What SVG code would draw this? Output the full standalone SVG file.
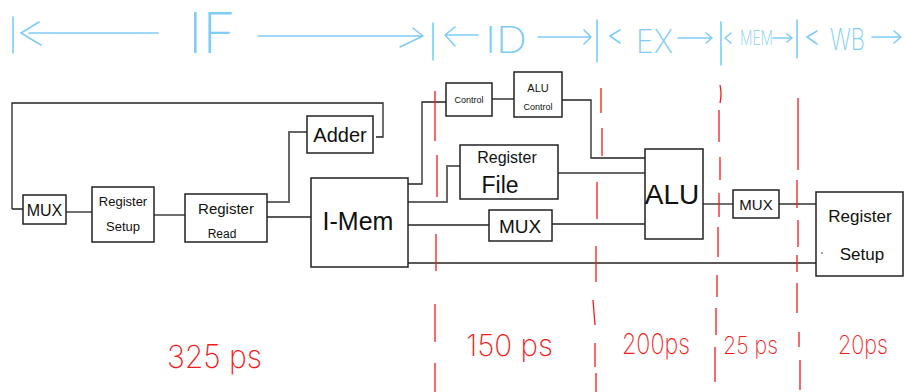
<svg xmlns="http://www.w3.org/2000/svg" width="904" height="392" viewBox="0 0 904 392">
<style>
.box{fill:#fff;stroke:#222;stroke-width:1.5}
.c{fill:none;stroke:#222;stroke-width:1.3}
.g{fill:none;stroke:#666;stroke-width:2}
.t{font-family:"Liberation Sans",Arial,sans-serif;fill:#111}
.hdr{fill:none;stroke:#7fcdf7;stroke-width:1.6;stroke-linecap:round;stroke-linejoin:round}
.ht{font-family:Inter,"Liberation Sans",sans-serif;font-weight:200;fill:#7fcdf7}
.red{fill:none;stroke:#f21c1c;stroke-width:1.3}
.rt{font-family:Inter,"Liberation Sans",sans-serif;font-weight:200;fill:#f21c1c}
</style>
<rect width="904" height="392" fill="#fff"/>

<g id="header">
<path class="hdr" d="M13 17V53 M39 22L21 33L41 45 M29 33H158 M258 36H423 M413 28L423 36L400 47 M433 23V60"/>
<text class="ht" x="188" y="53" font-size="56" textLength="48" lengthAdjust="spacingAndGlyphs">IF</text>
<path class="hdr" d="M455 27L445 35L455 46 M445 35H478 M538 37H591 M584 30L591 37L584 44 M597 20V62"/>
<text class="ht" x="485" y="53" font-size="36" textLength="42" lengthAdjust="spacingAndGlyphs">ID</text>
<path class="hdr" d="M620 30L610 36L620 43 M678 38H712 M706 33L712 38L706 43 M721 22V65"/>
<text class="ht" x="636" y="53" font-size="32" textLength="37" lengthAdjust="spacingAndGlyphs">EX</text>
<path class="hdr" d="M731 33L725 38L731 43 M773 38H792 M787 34L792 38L787 42 M797 20V58"/>
<text class="ht" x="740" y="45" font-size="20" textLength="33" lengthAdjust="spacingAndGlyphs">MEM</text>
<path class="hdr" d="M817 31L807 37L817 44 M872 37H900 M894 31L901 37L894 43"/>
<text class="ht" x="830" y="50" font-size="30" textLength="35" lengthAdjust="spacingAndGlyphs">WB</text>
</g>

<g id="connectors">
<path class="c" d="M12 209V103H383V137H376 M12 209H23"/>
<path class="c" d="M66 212H92"/>
<path class="c" d="M154 215H185"/>
<path class="c" d="M267 217H311" stroke-width="3"/>
<path class="g" d="M267 202H289V132H307"/>
<path class="c" d="M408 184H422V102H446"/>
<path class="g" d="M492 99H514"/>
<path class="c" d="M562 100H591V158H645"/>
<path class="g" d="M408 202H447V166H460"/>
<path class="g" d="M558 173H645"/>
<path class="c" d="M408 225H489"/>
<path class="c" d="M552 224H645"/>
<path class="c" d="M408 263H816"/>
<path class="c" d="M703 204H733"/>
<path class="g" d="M779 204H816"/>
</g>

<g id="mux1"><rect class="box" x="23" y="195" width="43" height="29"/><text class="t" x="44.5" y="216" font-size="16" text-anchor="middle">MUX</text></g>
<g id="regsetup1"><rect class="box" x="92" y="187" width="62" height="55"/><text class="t" x="123" y="206" font-size="13" text-anchor="middle">Register</text><text class="t" x="123" y="231" font-size="13" text-anchor="middle">Setup</text></g>
<g id="regread"><rect class="box" x="185" y="194" width="82" height="48"/><text class="t" x="226" y="214" font-size="15" text-anchor="middle">Register</text><text class="t" x="222" y="238" font-size="12" text-anchor="middle">Read</text></g>
<g id="adder"><rect class="box" x="307" y="116" width="66" height="37"/><text class="t" x="340" y="142" font-size="20" text-anchor="middle">Adder</text></g>
<g id="imem"><rect class="box" x="311" y="178" width="97" height="89"/><text class="t" x="358" y="230" font-size="25" text-anchor="middle">I-Mem</text></g>
<g id="control"><rect class="box" x="446" y="83" width="46" height="33"/><text class="t" x="469" y="103" font-size="9" text-anchor="middle">Control</text></g>
<g id="alucontrol"><rect class="box" x="514" y="72" width="48" height="45"/><text class="t" x="538" y="92" font-size="11" text-anchor="middle">ALU</text><text class="t" x="538" y="110" font-size="9" text-anchor="middle">Control</text></g>
<g id="regfile"><rect class="box" x="460" y="145" width="98" height="54"/><text class="t" x="507" y="163" font-size="16" text-anchor="middle">Register</text><text class="t" x="500" y="193" font-size="23" text-anchor="middle">File</text></g>
<g id="mux2"><rect class="box" x="489" y="210" width="63" height="31"/><text class="t" x="520" y="233" font-size="19" text-anchor="middle">MUX</text></g>
<g id="alu"><rect class="box" x="645" y="149" width="58" height="90"/><text class="t" x="672" y="204" font-size="28" text-anchor="middle">ALU</text></g>
<g id="mux3"><rect class="box" x="733" y="190" width="46" height="28"/><text class="t" x="756" y="210" font-size="15" text-anchor="middle">MUX</text></g>
<g id="regsetup2"><rect class="box" x="816" y="192" width="87" height="84"/><text class="t" x="860" y="222" font-size="17" text-anchor="middle">Register</text><text class="t" x="862" y="260" font-size="17" text-anchor="middle">Setup</text><circle cx="822" cy="253" r="0.8" fill="#333"/></g>

<g id="stage-dividers">
<path class="red" d="M435 91V141 M437 155V197 M436 234V271 M435 304V342 M435 363V392"/>
<path class="red" d="M601 88V113 M602 128V156 M597 182V219 M596 246V282 M593 300L595 325 M595 343V367 M596 373V392"/>
<path class="red" d="M720 85Q722 94 720 103 M719 110V142 M720 157V180 M719 193V217 M718 227V257 M717 275V297 M716 308V335 M715 347V382"/>
<path class="red" d="M798 98V170 M797 180V208 M798 220V247 M797 255V272 M797 283V313 M799 332V347 M800 360V390"/>
</g>

<g id="timings">
<text class="rt" x="167" y="368" font-size="32" textLength="95" lengthAdjust="spacingAndGlyphs">325 ps</text>
<text class="rt" x="466" y="356" font-size="30" textLength="87" lengthAdjust="spacingAndGlyphs">150 ps</text>
<text class="rt" x="622" y="354" font-size="28" textLength="68" lengthAdjust="spacingAndGlyphs">200ps</text>
<text class="rt" x="723" y="354" font-size="24" textLength="55" lengthAdjust="spacingAndGlyphs">25 ps</text>
<text class="rt" x="838" y="354" font-size="26" textLength="50" lengthAdjust="spacingAndGlyphs">20ps</text>
</g>
</svg>
